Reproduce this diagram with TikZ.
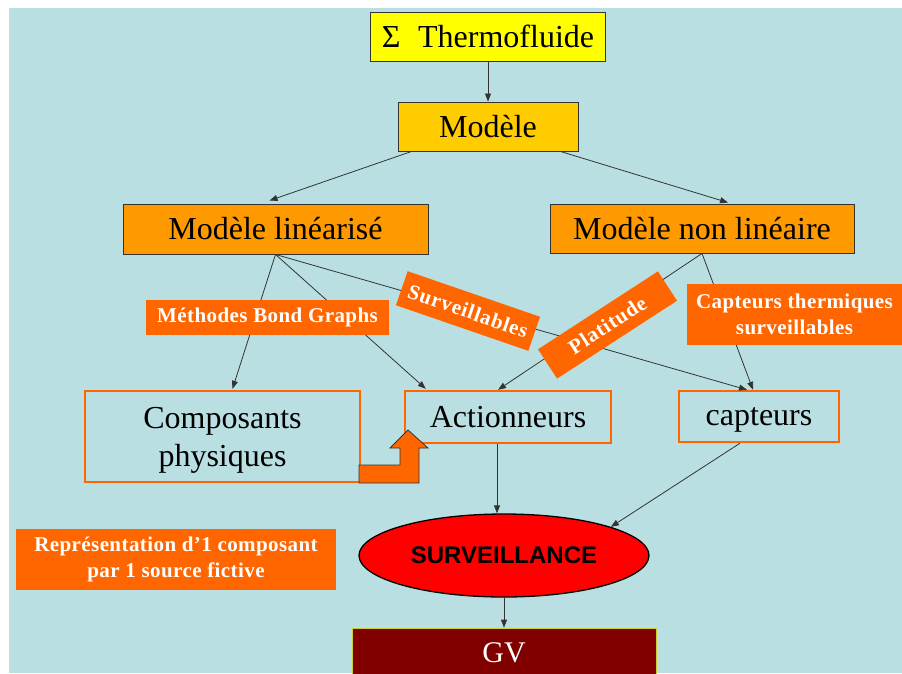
\documentclass[tikz,border=0pt]{standalone}
\usepackage{fontspec}
\setmainfont{Liberation Serif}
\setsansfont{Liberation Sans}
\usetikzlibrary{shapes.geometric,arrows.meta}
\definecolor{fond}{HTML}{BADFE2}
\definecolor{jaune}{HTML}{FFFF00}
\definecolor{dore}{HTML}{FFCC00}
\definecolor{orangeclair}{HTML}{FF9900}
\definecolor{orangevif}{HTML}{FF6600}
\definecolor{bordeaux}{HTML}{800000}
\definecolor{gvtrait}{HTML}{CCCC33}
\definecolor{trait}{HTML}{333333}
\tikzset{
  bloc/.style={draw=trait, line width=0.9pt, inner sep=0pt, align=center, font=\fontsize{32}{38}\selectfont},
  cadre/.style={draw=orangevif, line width=2.4pt, inner sep=0pt, align=center, font=\fontsize{32}{38}\selectfont},
  etiquette/.style={fill=orangevif, text=white, inner sep=0pt, align=center, font=\bfseries\fontsize{21}{25.5}\selectfont\addfontfeature{LetterSpace=2}},
  penchee/.style={etiquette, font=\bfseries\fontsize{21}{25.5}\selectfont\addfontfeature{LetterSpace=4}},
  fleche/.style={draw=trait, line width=0.8pt, -{Triangle[length=8pt,width=6pt]}},
}
\begin{document}
\begin{tikzpicture}[x=1pt,y=-1pt]
\useasboundingbox (0,0) rectangle (902,673);
\clip (0,0) rectangle (902,673);
\fill[fond] (9,8) rectangle (902,673);

\node[bloc, fill=jaune, minimum width=235pt, minimum height=49pt] (thermo) at (488,36.5) {Σ\hspace{0.55em}Thermofluide};
\node[bloc, fill=dore, minimum width=180pt, minimum height=49pt] (modele) at (488,126.5) {Modèle};
\node[bloc, fill=orangeclair, minimum width=305pt, minimum height=50pt] (lin) at (275.5,229) {Modèle linéarisé};
\node[bloc, fill=orangeclair, minimum width=304pt, minimum height=49pt] (nonlin) at (702,228.5) {Modèle non linéaire};

\node[cadre, minimum width=275pt, minimum height=91pt, text depth=0pt] (comp) at (222.5,436.5) {Composants\\physiques};
\node[cadre, minimum width=206pt, minimum height=52pt] (act) at (508,417) {Actionneurs};
\node[cadre, minimum width=160pt, minimum height=51pt, text depth=0pt] (capt) at (759,416.5) {capteurs};

\node[ellipse, draw=black, line width=1.3pt, fill=red, minimum width=290pt, minimum height=83pt, inner sep=0pt, font=\sffamily\bfseries\fontsize{24}{28}\selectfont] (surv) at (504,555.5) {SURVEILLANCE};
\node[draw=gvtrait, line width=0.8pt, fill=bordeaux, text=white, minimum width=304pt, minimum height=50pt, font=\fontsize{30}{36}\selectfont] (gv) at (504,653) {GV};

\draw[fleche] (thermo) -- (modele);
\draw[fleche] ([xshift=14pt]modele.south west) -- ([xshift=-6pt,yshift=3pt]lin.north);
\draw[fleche] ([xshift=-18pt]modele.south east) -- ([xshift=26pt,yshift=1pt]nonlin.north);
\draw[fleche] (lin.south) -- ([xshift=10pt,yshift=1pt]comp.north);
\draw[fleche] (lin.south) -- ([xshift=22pt,yshift=1pt]act.north west);
\draw[fleche] (lin.south) -- ([xshift=-12pt]capt.north);
\draw[fleche] (nonlin.south) -- ([xshift=-10pt]act.north);
\draw[fleche] (nonlin.south) -- ([xshift=-6pt]capt.north);
\draw[fleche] ([xshift=-11pt]act.south) -- ([xshift=-11pt]act.south |- surv.north);
\draw[fleche] ([xshift=-19pt]capt.south) -- (surv.15);
\draw[fleche] (surv.south) -- (gv.north);

\filldraw[fill=orangevif, draw=trait, line width=0.8pt] (359,465) -- (400,465) -- (400,448) -- (390,448) -- (408,430) -- (428,448) -- (419,448) -- (419,483) -- (359,483) -- cycle;

\node[etiquette, minimum width=243pt, minimum height=35pt] (bond) at (267.5,317.5) {Méthodes Bond Graphs};
\node[penchee, minimum width=140pt, minimum height=36pt, rotate=-19] (surveil) at (468,311) {Surveillables};
\node[penchee, minimum width=143pt, minimum height=35pt, rotate=33] (platit) at (607.5,325) {Platitude};
\node[etiquette, minimum width=215pt, minimum height=61pt] (captherm) at (794.5,314.5) {Capteurs thermiques\\surveillables};
\node[etiquette, minimum width=320pt, minimum height=61pt] (repres) at (176,559.5) {Représentation d’1 composant\\par 1 source fictive};
\end{tikzpicture}
\end{document}
